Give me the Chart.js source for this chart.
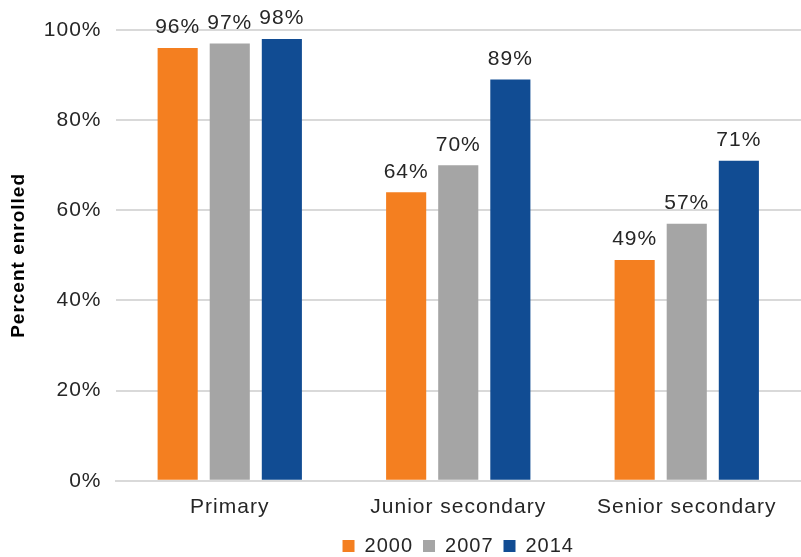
<!DOCTYPE html>
<html>
<head>
<meta charset="utf-8">
<script src="https://cdn.jsdelivr.net/npm/chart.js@4.4.0/dist/chart.umd.min.js"></script>
<style>
  html, body { margin: 0; padding: 0; background: #fff; }
  #wrap { width: 801px; height: 557px; }
</style>
</head>
<body>
<div id="wrap"><canvas id="myChart" width="801" height="557"></canvas></div>
<script>
var categorias = ['Primary', 'Junior secondary', 'Senior secondary'];
var anios = ['2000', '2007', '2014'];
var valores2000 = [96, 64, 49];
var valores2007 = [97, 70, 57];
var valores2014 = [98, 89, 71];
var colores = ['#F47F20', '#A5A5A5', '#114C93'];

var fuente = 'Arial, "Liberation Sans", sans-serif';

// el texto del original es algo mas espaciado
var espaciado = {
    id: 'espaciado',
    beforeUpdate: function (chart) { chart.ctx.letterSpacing = '1px'; },
    beforeDraw: function (chart) { chart.ctx.letterSpacing = '1px'; }
};

// etiquetas de porcentaje encima de cada barra
var etiquetas = {
    id: 'etiquetas',
    afterDatasetsDraw: function (chart) {
        var ctx = chart.ctx;
        ctx.save();
        ctx.font = '21px ' + fuente;
        ctx.fillStyle = '#262626';
        ctx.textAlign = 'center';
        ctx.textBaseline = 'bottom';
        chart.data.datasets.forEach(function (ds, i) {
            var meta = chart.getDatasetMeta(i);
            meta.data.forEach(function (bar, j) {
                ctx.fillText(ds.data[j] + '%', bar.x, bar.y - 10);
            });
        });
        ctx.restore();
    }
};

var ctx = document.getElementById('myChart').getContext('2d');
var myChart = new Chart(ctx, {
    type: 'bar',
    data: {
        labels: categorias,
        datasets: [
            { label: anios[0], data: valores2000, backgroundColor: colores[0] },
            { label: anios[1], data: valores2007, backgroundColor: colores[1] },
            { label: anios[2], data: valores2014, backgroundColor: colores[2] }
        ]
    },
    options: {
        responsive: false,
        animation: false,
        devicePixelRatio: 1,
        layout: { padding: { top: 30, right: 0, left: 7, bottom: -9 } },
        datasets: {
            bar: { categoryPercentage: 0.684, barPercentage: 0.77 }
        },
        scales: {
            x: {
                grid: { display: false },
                border: { color: '#D9D9D9', width: 2 },
                ticks: { color: '#262626', font: { size: 21, family: fuente }, padding: 6 }
            },
            y: {
                min: 0,
                max: 100,
                ticks: {
                    stepSize: 20,
                    color: '#262626',
                    font: { size: 21, family: fuente },
                    padding: 14,
                    callback: function (v) { return v + '%'; }
                },
                grid: { color: '#D9D9D9', lineWidth: 2, drawTicks: false },
                border: { display: false },
                title: {
                    display: true,
                    text: 'Percent enrolled',
                    color: '#000',
                    font: { size: 19, weight: 'bold', family: fuente },
                    padding: { top: 0, bottom: 0 }
                }
            }
        },
        plugins: {
            legend: {
                position: 'bottom',
                fullSize: false,
                labels: {
                    boxWidth: 12,
                    boxHeight: 12,
                    padding: 10,
                    color: '#262626',
                    font: { size: 20, family: fuente }
                }
            },
            tooltip: { enabled: false }
        }
    },
    plugins: [espaciado, etiquetas]
});
</script>
</body>
</html>
